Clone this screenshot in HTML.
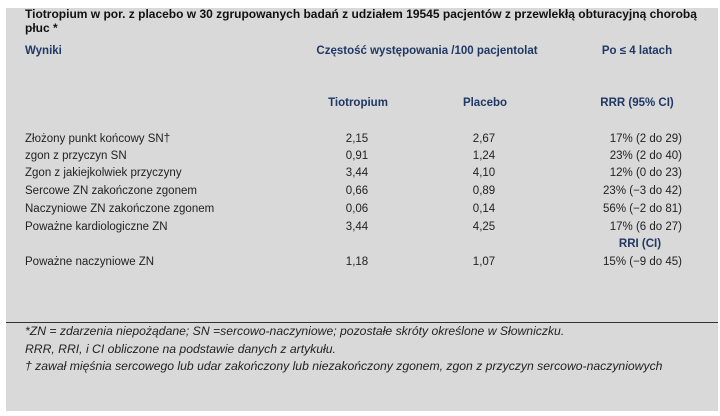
<!DOCTYPE html>
<html><head><meta charset="utf-8"><style>
body{margin:0;width:720px;height:416px;background:#fff;position:relative;overflow:hidden;font-family:"Liberation Sans",sans-serif;font-size:11.5px;color:#222}
#bg{position:absolute;left:6px;top:8px;width:712px;height:403px;background:#d9d9d9}
.t{position:absolute;white-space:nowrap;line-height:13px}
.b{font-weight:bold;color:#1f3864}
.c{transform:translateX(-50%)}
.r{transform:translateX(-100%)}
.f{font-style:italic;font-size:12.2px}
#line{position:absolute;left:6px;top:322px;width:712px;height:1px;background:#333}
</style></head><body>
<div id="bg"></div>
<div class="t" style="left:25px;top:8px;font-weight:bold;font-size:12px;color:#111">Tiotropium w por. z placebo w 30 zgrupowanych badań z udziałem 19545 pacjentów z przewlekłą obturacyjną chorobą</div>
<div class="t" style="left:25px;top:22px;font-weight:bold;font-size:12px;color:#111">płuc *</div>
<div class="t b" style="left:25px;top:45px">Wyniki</div>
<div class="t b c" style="left:427px;top:45px">Częstość występowania /100 pacjentolat</div>
<div class="t b c" style="left:637px;top:45px">Po ≤ 4 latach</div>
<div class="t b c" style="left:358px;top:97px">Tiotropium</div>
<div class="t b c" style="left:485px;top:97px">Placebo</div>
<div class="t b c" style="left:637px;top:97px">RRR (95% CI)</div>

<div class="t" style="left:25px;top:133px">Złożony punkt końcowy SN†</div>
<div class="t c" style="left:357px;top:133px">2,15</div>
<div class="t c" style="left:484px;top:133px">2,67</div>
<div class="t r" style="left:682px;top:133px">17% (2 do 29)</div>

<div class="t" style="left:25px;top:150px">zgon z przyczyn SN</div>
<div class="t c" style="left:357px;top:150px">0,91</div>
<div class="t c" style="left:484px;top:150px">1,24</div>
<div class="t r" style="left:682px;top:150px">23% (2 do 40)</div>

<div class="t" style="left:25px;top:167px">Zgon z jakiejkolwiek przyczyny</div>
<div class="t c" style="left:357px;top:167px">3,44</div>
<div class="t c" style="left:484px;top:167px">4,10</div>
<div class="t r" style="left:682px;top:167px">12% (0 do 23)</div>

<div class="t" style="left:25px;top:185px">Sercowe ZN zakończone zgonem</div>
<div class="t c" style="left:357px;top:185px">0,66</div>
<div class="t c" style="left:484px;top:185px">0,89</div>
<div class="t r" style="left:682px;top:185px">23% (−3 do 42)</div>

<div class="t" style="left:25px;top:203px">Naczyniowe ZN zakończone zgonem</div>
<div class="t c" style="left:357px;top:203px">0,06</div>
<div class="t c" style="left:484px;top:203px">0,14</div>
<div class="t r" style="left:682px;top:203px">56% (−2 do 81)</div>

<div class="t" style="left:25px;top:221px">Poważne kardiologiczne ZN</div>
<div class="t c" style="left:357px;top:221px">3,44</div>
<div class="t c" style="left:484px;top:221px">4,25</div>
<div class="t r" style="left:682px;top:221px">17% (6 do 27)</div>

<div class="t b c" style="left:640px;top:238px">RRI (CI)</div>

<div class="t" style="left:25px;top:256px">Poważne naczyniowe ZN</div>
<div class="t c" style="left:357px;top:256px">1,18</div>
<div class="t c" style="left:484px;top:256px">1,07</div>
<div class="t r" style="left:682px;top:256px">15% (−9 do 45)</div>

<div id="line"></div>
<div class="t f" style="left:25px;top:325px">*ZN = zdarzenia niepożądane; SN =sercowo-naczyniowe; pozostałe skróty określone w Słowniczku.</div>
<div class="t f" style="left:25px;top:343px">RRR, RRI, i CI obliczone na podstawie danych z artykułu.</div>
<div class="t f" style="left:25px;top:360px">† zawał mięśnia sercowego lub udar zakończony lub niezakończony zgonem, zgon z przyczyn sercowo-naczyniowych</div>
</body></html>
